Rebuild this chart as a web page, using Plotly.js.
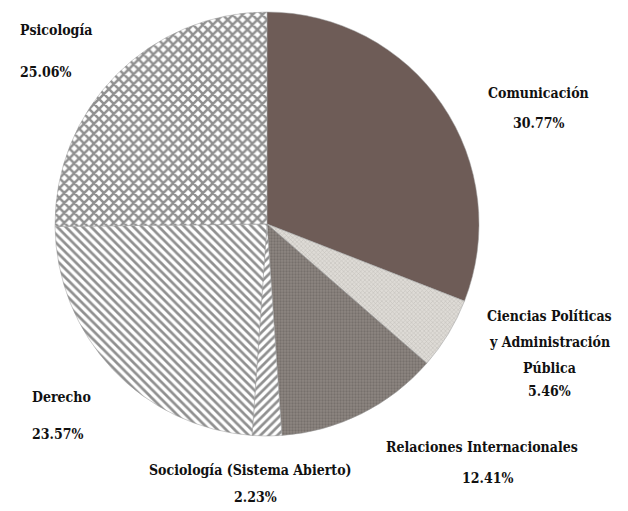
<!DOCTYPE html>
<html>
<head>
<meta charset="utf-8">
<script src="https://cdn.plot.ly/plotly-3.0.1.min.js"></script>
<style>html,body{margin:0;padding:0;background:#fff;}#chart{width:628px;height:511px;}</style>
</head>
<body>
<div id="chart"></div>
<script>
// ---- data ----
const categories = ["Comunicación", "Ciencias Políticas<br>y Administración<br>Pública", "Relaciones Internacionales", "Sociología (Sistema Abierto)", "Derecho", "Psicología"];
const shares = [30.77, 5.46, 12.41, 2.23, 23.57, 25.06];
const shareLabels = ["30.77%", "5.46%", "12.41%", "2.23%", "23.57%", "25.06%"];

// ---- styles ----
const bgColors = ["#6e5c57", "#dedbd6", "#8d8681", "#ffffff", "#ffffff", "#ffffff"];
const fgColors = ["#6e5c57", "#a9a5a0", "#5f5955", "#222222", "#222222", "#222222"];
const shapes = ["", "x", ".", "/", "\\", "x"];
const psizes = [8, 3, 3, 6, 6, 7];
const solid = [0.3, 0.35, 0.45, 0.45, 0.45, 0.6];

// label placement (layout): [xName, yFirstLine, xVal, yVal, anchor]
const labelPos = [
  [538, 93, 538, 123, "center"],
  [549, 316, 549, 391, "center"],
  [482, 447, 487, 478, "center"],
  [250, 470, 255, 497, "center"],
  [30, 397, 30, 434, "left"],
  [18, 30, 18, 72, "left"]
];
const lineGap = 26;

const W = 628, H = 511;
const font = {family: "DejaVu Serif Condensed, Liberation Serif, serif", size: 14, color: "#111111"};

const annotations = [];
categories.forEach((c, i) => {
  const p = labelPos[i];
  c.split("<br>").forEach((line, k) => {
    annotations.push({xref: "paper", yref: "paper", x: p[0] / W, y: 1 - (p[1] + k * lineGap) / H,
      xanchor: p[4], yanchor: "middle", text: "<b>" + line + "</b>", showarrow: false,
      font: font, align: "center"});
  });
  annotations.push({xref: "paper", yref: "paper", x: p[2] / W, y: 1 - p[3] / H,
    xanchor: p[4], yanchor: "middle", text: "<b>" + shareLabels[i] + "</b>", showarrow: false,
    font: font, align: "center"});
});

const trace = {
  type: "pie",
  labels: categories,
  values: shares,
  sort: false,
  direction: "clockwise",
  rotation: 0,
  textinfo: "none",
  hoverinfo: "label+percent",
  domain: {x: [55 / W, 479 / W], y: [1 - 436 / H, 1 - 12 / H]},
  marker: {
    colors: bgColors,
    line: {color: "#9a9a9a", width: 0.5},
    pattern: {shape: shapes, fgcolor: fgColors, bgcolor: bgColors, size: psizes, solidity: solid, fillmode: "overlay"}
  }
};

Plotly.newPlot("chart", [trace], {
  width: W, height: H,
  margin: {l: 0, r: 0, t: 0, b: 0},
  showlegend: false,
  paper_bgcolor: "#ffffff",
  annotations: annotations
}, {displayModeBar: false, staticPlot: true});
</script>
</body>
</html>
